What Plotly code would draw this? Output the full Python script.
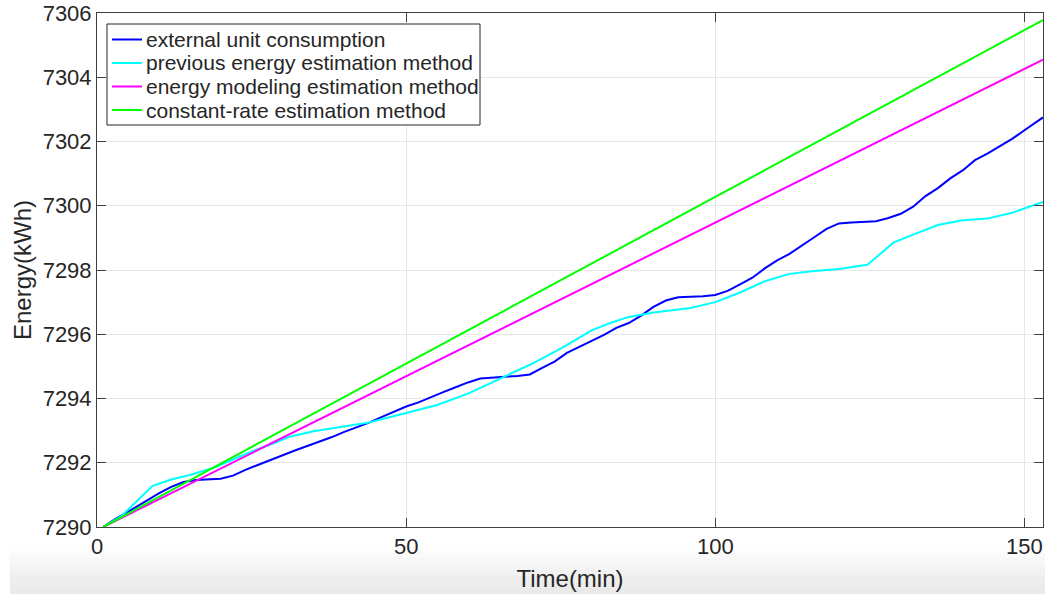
import plotly.graph_objects as go

# ---- data ----
t_blue = [1, 3, 5, 7, 9, 10, 12, 14, 16, 18, 20, 22, 24, 26, 28, 30, 32, 34, 36, 38, 40,
          42, 44, 46, 48, 50, 52, 54, 56, 58, 60, 62, 64, 66, 68, 70, 72, 74, 76, 78, 80,
          82, 84, 86, 88, 90, 92, 94, 96, 98, 100, 102, 104, 106, 108, 110, 112, 114, 116,
          118, 120, 122, 124, 126, 128, 130, 132, 134, 136, 138, 140, 142, 144, 146, 148,
          150, 152, 153]
e_blue = [7290.0, 7290.25, 7290.47, 7290.7, 7290.92, 7291.05, 7291.25, 7291.4, 7291.46,
          7291.47, 7291.5, 7291.6, 7291.78, 7291.93, 7292.08, 7292.25, 7292.38, 7292.52,
          7292.65, 7292.8, 7292.96, 7293.1, 7293.25, 7293.42, 7293.58, 7293.75, 7293.88,
          7294.05, 7294.2, 7294.35, 7294.5, 7294.62, 7294.66, 7294.68, 7294.7, 7294.75,
          7294.95, 7295.15, 7295.42, 7295.6, 7295.8, 7295.98, 7296.2, 7296.35, 7296.58,
          7296.85, 7297.05, 7297.15, 7297.17, 7297.18, 7297.22, 7297.35, 7297.55, 7297.76,
          7298.05, 7298.3, 7298.5, 7298.75, 7299.02, 7299.28, 7299.45, 7299.48, 7299.5,
          7299.52, 7299.62, 7299.75, 7299.97, 7300.3, 7300.55, 7300.85, 7301.1, 7301.42,
          7301.62, 7301.85, 7302.08, 7302.35, 7302.62, 7302.75]

t_cyan = [1, 4, 9, 12, 15, 19, 22, 25, 28.5, 31, 35, 40, 44, 50, 55, 60, 65, 70, 75, 80,
          83, 86, 90, 96, 100, 104, 108, 112, 116, 120, 124.6, 128.8, 132, 136, 140, 144,
          148, 153]
e_cyan = [7290.0, 7290.35, 7291.28, 7291.48, 7291.62, 7291.85, 7292.1, 7292.35, 7292.6,
          7292.8, 7292.98, 7293.12, 7293.25, 7293.55, 7293.8, 7294.15, 7294.6, 7295.05,
          7295.55, 7296.12, 7296.35, 7296.54, 7296.68, 7296.82, 7297.0, 7297.3, 7297.65,
          7297.88, 7297.97, 7298.03, 7298.16, 7298.85, 7299.1, 7299.4, 7299.55, 7299.6,
          7299.78, 7300.12]

t_magenta = [1, 153]
e_magenta = [7290.0, 7304.55]

t_green = [1, 153]
e_green = [7290.0, 7305.78]

names = ["external unit consumption", "previous energy estimation method",
         "energy modeling estimation method", "constant-rate estimation method"]
colors = ["#0000ff", "#00ffff", "#ff00ff", "#00ff00"]
x_ticks = [0, 50, 100, 150]
y_ticks = [7290, 7292, 7294, 7296, 7298, 7300, 7302, 7304, 7306]

# plot-area geometry in pixels (for paper-coordinate placement)
L, R, T, B = 97, 1043, 13, 527
def px(xp):
    return (xp - L) / (R - L)
def py(yp):
    return (B - yp) / (B - T)

fig = go.Figure()
series = [(t_blue, e_blue), (t_cyan, e_cyan), (t_magenta, e_magenta), (t_green, e_green)]
for (x, y), n, c in zip(series, names, colors):
    fig.add_trace(go.Scatter(x=x, y=y, mode="lines", name=n,
                             line=dict(color=c, width=2), showlegend=False))

# light grey band at the bottom (screenshot background)
greys = ["#fdfdfd", "#fafafa", "#f7f7f7", "#f4f4f4", "#f1f1f1", "#eeeeee", "#ececec", "#eaeaea"]
for i, g in enumerate(greys):
    p0 = 546 + i * 6
    fig.add_shape(type="rect", xref="paper", yref="paper", layer="below",
                  x0=px(10), x1=px(1045), y0=py(p0 + 6), y1=py(p0),
                  fillcolor=g, line=dict(width=0))

# legend box (MATLAB style)
fig.add_shape(type="rect", xref="paper", yref="paper", layer="above",
              x0=px(107), x1=px(480), y0=py(125), y1=py(24),
              fillcolor="white", line=dict(color="#262626", width=1))
row_y = [39.5, 63, 86.5, 110]
for n, c, ry in zip(names, colors, row_y):
    fig.add_shape(type="line", xref="paper", yref="paper", layer="above",
                  x0=px(112), x1=px(142), y0=py(ry), y1=py(ry),
                  line=dict(color=c, width=2))
    fig.add_annotation(xref="paper", yref="paper", x=px(144), y=py(ry),
                       xanchor="left", yanchor="middle", showarrow=False, text=n,
                       font=dict(family="Liberation Sans, Arial", size=21, color="#262626"))

axis_common = dict(showgrid=True, gridcolor="#e6e6e6", gridwidth=1, automargin=False,
                   showline=True, linecolor="#404040", linewidth=1, mirror="ticks",
                   ticks="inside", ticklen=9, tickcolor="#404040", zeroline=False,
                   tickfont=dict(family="Liberation Sans, Arial", size=22, color="#262626"))

fig.update_layout(
    width=1045, height=594,
    margin=dict(l=L, r=1045 - R, t=T, b=594 - B),
    paper_bgcolor="white", plot_bgcolor="white",
    font=dict(family="Liberation Sans, Arial", color="#262626"),
    showlegend=False,
    xaxis=dict(range=[0, 153], tickvals=x_ticks,
               title=dict(text="Time(min)", font=dict(size=24), standoff=11),
               **axis_common),
    yaxis=dict(range=[7290, 7306], tickvals=y_ticks,
               title=dict(text="Energy(kWh)", font=dict(size=24), standoff=4),
               **axis_common),
)

fig.write_html("out.html", config={"displayModeBar": False},
               post_script="document.body.style.margin='0';document.body.style.overflow='hidden';")
